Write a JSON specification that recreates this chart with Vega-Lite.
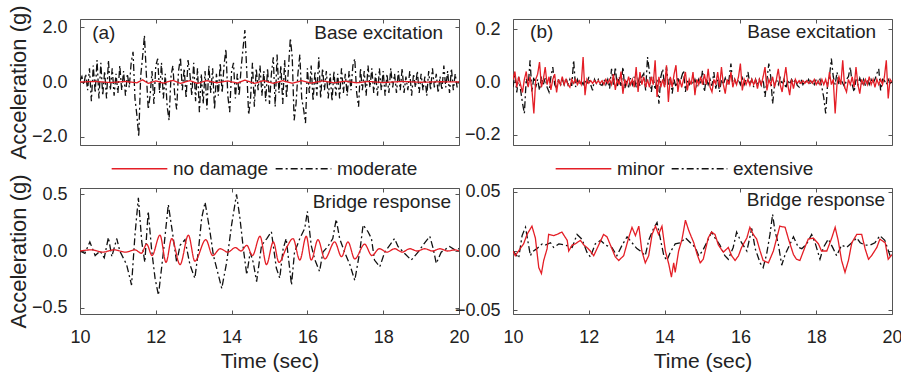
{
"$schema":"https://vega.github.io/schema/vega-lite/v6.json",
"padding":{"left":6,"top":4,"right":2,"bottom":2},
"config":{"font":"Liberation Sans","view":{"stroke":"#555555","strokeWidth":1},
"axis":{"domain":false,"grid":false,"tickSize":-4,"tickColor":"#555555","labelFontSize":18,"labelColor":"#222222","titleFontSize":22,"titleFontWeight":"normal","titleColor":"#222222","labelPadding":17,"labelFlush":false,"labelOverlap":false,"labelBound":false},
"axisBottom":{"labelPadding":18},
"axisTop":{"labelPadding":0},
"axisRight":{"labelPadding":0},
"text":{"font":"Liberation Sans"}},
"datasets":{
"tlk":[{"t":10.00,"v":0.05},{"t":10.05,"v":0.2},{"t":10.10,"v":-0.1},{"t":10.15,"v":0.3},{"t":10.20,"v":-0.3},{"t":10.25,"v":0.5},{"t":10.30,"v":-0.7},{"t":10.35,"v":0.6},{"t":10.40,"v":-0.4},{"t":10.45,"v":0.8},{"t":10.50,"v":-0.6},{"t":10.55,"v":0.7},{"t":10.60,"v":-0.5},{"t":10.65,"v":0.4},{"t":10.70,"v":-0.6},{"t":10.75,"v":0.8},{"t":10.80,"v":-0.3},{"t":10.85,"v":0.5},{"t":10.90,"v":-0.5},{"t":10.95,"v":0.3},{"t":11.00,"v":-0.4},{"t":11.05,"v":0.6},{"t":11.10,"v":-0.3},{"t":11.15,"v":0.4},{"t":11.20,"v":-0.5},{"t":11.25,"v":0.3},{"t":11.30,"v":-0.2},{"t":11.35,"v":0.7},{"t":11.40,"v":1.1},{"t":11.45,"v":-0.6},{"t":11.50,"v":-1.2},{"t":11.55,"v":-2.0},{"t":11.60,"v":0.2},{"t":11.65,"v":0.9},{"t":11.70,"v":1.7},{"t":11.75,"v":0.3},{"t":11.80,"v":-1.0},{"t":11.85,"v":-0.5},{"t":11.90,"v":0.4},{"t":11.95,"v":-0.8},{"t":12.00,"v":0.6},{"t":12.05,"v":0.85},{"t":12.10,"v":-0.4},{"t":12.15,"v":0.7},{"t":12.20,"v":-0.6},{"t":12.25,"v":0.3},{"t":12.30,"v":-0.9},{"t":12.35,"v":-1.4},{"t":12.40,"v":0.2},{"t":12.45,"v":0.6},{"t":12.50,"v":-0.5},{"t":12.55,"v":-1.0},{"t":12.60,"v":0.4},{"t":12.65,"v":0.9},{"t":12.70,"v":-0.3},{"t":12.75,"v":0.5},{"t":12.80,"v":-0.6},{"t":12.85,"v":0.8},{"t":12.90,"v":0.3},{"t":12.95,"v":-0.5},{"t":13.00,"v":0.7},{"t":13.05,"v":-0.7},{"t":13.10,"v":0.5},{"t":13.15,"v":-1.1},{"t":13.20,"v":0.3},{"t":13.25,"v":-0.8},{"t":13.30,"v":0.4},{"t":13.35,"v":-1.0},{"t":13.40,"v":0.6},{"t":13.45,"v":-0.4},{"t":13.50,"v":0.5},{"t":13.55,"v":-1.0},{"t":13.60,"v":0.3},{"t":13.65,"v":-0.5},{"t":13.70,"v":0.7},{"t":13.75,"v":-0.4},{"t":13.80,"v":0.6},{"t":13.85,"v":1.2},{"t":13.90,"v":-0.5},{"t":13.95,"v":-1.1},{"t":14.00,"v":0.4},{"t":14.05,"v":0.7},{"t":14.10,"v":-0.6},{"t":14.15,"v":0.3},{"t":14.20,"v":-0.5},{"t":14.25,"v":0.5},{"t":14.30,"v":1.2},{"t":14.35,"v":1.9},{"t":14.40,"v":0.4},{"t":14.45,"v":-1.2},{"t":14.50,"v":-0.6},{"t":14.55,"v":0.7},{"t":14.60,"v":-0.9},{"t":14.65,"v":0.5},{"t":14.70,"v":-0.3},{"t":14.75,"v":0.6},{"t":14.80,"v":-0.5},{"t":14.85,"v":0.4},{"t":14.90,"v":-0.7},{"t":14.95,"v":0.5},{"t":15.00,"v":-0.8},{"t":15.05,"v":0.3},{"t":15.10,"v":0.9},{"t":15.15,"v":-0.9},{"t":15.20,"v":1.0},{"t":15.25,"v":-0.4},{"t":15.30,"v":0.6},{"t":15.35,"v":-0.8},{"t":15.40,"v":0.8},{"t":15.45,"v":-0.6},{"t":15.50,"v":0.5},{"t":15.55,"v":1.6},{"t":15.60,"v":0.9},{"t":15.65,"v":-1.4},{"t":15.70,"v":-0.8},{"t":15.75,"v":0.3},{"t":15.80,"v":1.0},{"t":15.85,"v":-0.6},{"t":15.90,"v":-1.0},{"t":15.95,"v":-1.5},{"t":16.00,"v":0.5},{"t":16.05,"v":-0.4},{"t":16.10,"v":0.6},{"t":16.15,"v":-0.7},{"t":16.20,"v":0.4},{"t":16.25,"v":-0.5},{"t":16.30,"v":0.9},{"t":16.35,"v":-0.6},{"t":16.40,"v":0.5},{"t":16.45,"v":-0.3},{"t":16.50,"v":0.4},{"t":16.55,"v":-0.6},{"t":16.60,"v":0.3},{"t":16.65,"v":-0.7},{"t":16.70,"v":0.4},{"t":16.75,"v":-0.5},{"t":16.80,"v":0.3},{"t":16.85,"v":-0.6},{"t":16.90,"v":0.5},{"t":16.95,"v":-0.4},{"t":17.00,"v":0.3},{"t":17.05,"v":-0.5},{"t":17.10,"v":0.4},{"t":17.15,"v":-0.3},{"t":17.20,"v":0.6},{"t":17.25,"v":0.85},{"t":17.30,"v":-0.4},{"t":17.35,"v":-0.9},{"t":17.40,"v":0.5},{"t":17.45,"v":-0.3},{"t":17.50,"v":0.4},{"t":17.55,"v":-0.5},{"t":17.60,"v":0.6},{"t":17.65,"v":-0.2},{"t":17.70,"v":0.5},{"t":17.75,"v":-0.4},{"t":17.80,"v":0.3},{"t":17.85,"v":-0.5},{"t":17.90,"v":0.5},{"t":17.95,"v":-0.3},{"t":18.00,"v":0.4},{"t":18.05,"v":-0.5},{"t":18.10,"v":0.3},{"t":18.15,"v":-0.4},{"t":18.20,"v":0.5},{"t":18.25,"v":-0.2},{"t":18.30,"v":0.3},{"t":18.35,"v":-0.4},{"t":18.40,"v":0.4},{"t":18.45,"v":-0.3},{"t":18.50,"v":0.5},{"t":18.55,"v":-0.4},{"t":18.60,"v":0.2},{"t":18.65,"v":-0.3},{"t":18.70,"v":0.4},{"t":18.75,"v":-0.5},{"t":18.80,"v":0.3},{"t":18.85,"v":-0.2},{"t":18.90,"v":0.4},{"t":18.95,"v":-0.4},{"t":19.00,"v":0.3},{"t":19.05,"v":-0.3},{"t":19.10,"v":0.2},{"t":19.15,"v":-0.5},{"t":19.20,"v":0.4},{"t":19.25,"v":-0.3},{"t":19.30,"v":0.5},{"t":19.35,"v":-0.2},{"t":19.40,"v":0.3},{"t":19.45,"v":-0.4},{"t":19.50,"v":0.2},{"t":19.55,"v":-0.3},{"t":19.60,"v":0.6},{"t":19.65,"v":-0.2},{"t":19.70,"v":0.4},{"t":19.75,"v":-0.4},{"t":19.80,"v":0.5},{"t":19.85,"v":-0.3},{"t":19.90,"v":0.3},{"t":19.95,"v":-0.2},{"t":20.00,"v":0.1}],
"tlr":[{"t":10.0,"v":0.0},{"t":10.4,"v":0.02},{"t":10.8,"v":-0.02},{"t":11.2,"v":0.02},{"t":11.5,"v":-0.03},{"t":11.65,"v":0.08},{"t":11.8,"v":-0.05},{"t":12.0,"v":0.04},{"t":12.2,"v":-0.04},{"t":12.45,"v":0.06},{"t":12.65,"v":-0.05},{"t":12.9,"v":0.05},{"t":13.1,"v":-0.05},{"t":13.35,"v":0.05},{"t":13.6,"v":-0.03},{"t":13.9,"v":0.04},{"t":14.15,"v":-0.04},{"t":14.35,"v":0.07},{"t":14.6,"v":-0.05},{"t":14.85,"v":0.05},{"t":15.1,"v":-0.05},{"t":15.35,"v":0.05},{"t":15.6,"v":-0.05},{"t":15.85,"v":0.05},{"t":16.1,"v":-0.04},{"t":16.4,"v":0.04},{"t":16.7,"v":-0.03},{"t":17.0,"v":0.03},{"t":17.3,"v":-0.03},{"t":17.6,"v":0.02},{"t":18.0,"v":-0.02},{"t":18.5,"v":0.02},{"t":19.0,"v":-0.01},{"t":19.5,"v":0.01},{"t":20.0,"v":0.0}],
"trr":[{"t":10.00,"v":0.01},{"t":10.05,"v":0.04},{"t":10.10,"v":-0.02},{"t":10.15,"v":0.02},{"t":10.20,"v":-0.01},{"t":10.25,"v":-0.04},{"t":10.30,"v":0.01},{"t":10.35,"v":0.04},{"t":10.40,"v":-0.02},{"t":10.45,"v":0.02},{"t":10.50,"v":-0.03},{"t":10.55,"v":-0.12},{"t":10.60,"v":0.01},{"t":10.65,"v":0.03},{"t":10.70,"v":0.076},{"t":10.75,"v":-0.02},{"t":10.80,"v":0.01},{"t":10.85,"v":0.057},{"t":10.90,"v":-0.01},{"t":10.95,"v":0.02},{"t":11.00,"v":-0.03},{"t":11.05,"v":0.01},{"t":11.10,"v":0.03},{"t":11.15,"v":-0.04},{"t":11.20,"v":0.01},{"t":11.25,"v":-0.01},{"t":11.30,"v":0.02},{"t":11.35,"v":-0.01},{"t":11.40,"v":0.01},{"t":11.45,"v":-0.01},{"t":11.50,"v":-0.02},{"t":11.55,"v":0.01},{"t":11.60,"v":-0.005},{"t":11.65,"v":0.01},{"t":11.70,"v":-0.01},{"t":11.75,"v":0.005},{"t":11.80,"v":-0.01},{"t":11.85,"v":0.095},{"t":11.90,"v":-0.05},{"t":11.95,"v":0.01},{"t":12.00,"v":-0.005},{"t":12.05,"v":0.005},{"t":12.10,"v":-0.005},{"t":12.15,"v":0.005},{"t":12.20,"v":-0.005},{"t":12.25,"v":0.005},{"t":12.30,"v":-0.005},{"t":12.35,"v":0.005},{"t":12.40,"v":-0.01},{"t":12.45,"v":0.01},{"t":12.50,"v":-0.005},{"t":12.55,"v":0.01},{"t":12.60,"v":-0.01},{"t":12.65,"v":0.03},{"t":12.70,"v":-0.03},{"t":12.75,"v":0.01},{"t":12.80,"v":-0.01},{"t":12.85,"v":0.04},{"t":12.90,"v":-0.045},{"t":12.95,"v":0.01},{"t":13.00,"v":-0.01},{"t":13.05,"v":0.02},{"t":13.10,"v":-0.01},{"t":13.15,"v":0.01},{"t":13.20,"v":-0.02},{"t":13.25,"v":0.057},{"t":13.30,"v":-0.038},{"t":13.35,"v":0.038},{"t":13.40,"v":-0.01},{"t":13.45,"v":0.02},{"t":13.50,"v":-0.02},{"t":13.55,"v":0.01},{"t":13.60,"v":-0.02},{"t":13.65,"v":0.02},{"t":13.70,"v":-0.01},{"t":13.75,"v":0.083},{"t":13.80,"v":-0.057},{"t":13.85,"v":0.02},{"t":13.90,"v":-0.02},{"t":13.95,"v":0.01},{"t":14.00,"v":-0.02},{"t":14.05,"v":0.064},{"t":14.10,"v":-0.076},{"t":14.15,"v":0.02},{"t":14.20,"v":-0.02},{"t":14.25,"v":0.03},{"t":14.30,"v":0.064},{"t":14.35,"v":-0.038},{"t":14.40,"v":0.01},{"t":14.45,"v":-0.02},{"t":14.50,"v":0.01},{"t":14.55,"v":0.038},{"t":14.60,"v":-0.032},{"t":14.65,"v":0.01},{"t":14.70,"v":-0.01},{"t":14.75,"v":0.038},{"t":14.80,"v":-0.05},{"t":14.85,"v":0.01},{"t":14.90,"v":-0.01},{"t":14.95,"v":0.02},{"t":15.00,"v":-0.01},{"t":15.05,"v":0.03},{"t":15.10,"v":-0.01},{"t":15.15,"v":0.05},{"t":15.20,"v":-0.02},{"t":15.25,"v":-0.038},{"t":15.30,"v":0.01},{"t":15.35,"v":-0.01},{"t":15.40,"v":0.038},{"t":15.45,"v":-0.02},{"t":15.50,"v":0.057},{"t":15.55,"v":-0.01},{"t":15.60,"v":-0.044},{"t":15.65,"v":0.01},{"t":15.70,"v":-0.01},{"t":15.75,"v":0.038},{"t":15.80,"v":-0.02},{"t":15.85,"v":0.01},{"t":15.90,"v":-0.01},{"t":15.95,"v":0.02},{"t":16.00,"v":0.07},{"t":16.05,"v":-0.032},{"t":16.10,"v":0.01},{"t":16.15,"v":-0.01},{"t":16.20,"v":0.01},{"t":16.25,"v":-0.013},{"t":16.30,"v":0.01},{"t":16.35,"v":-0.01},{"t":16.40,"v":0.01},{"t":16.45,"v":-0.025},{"t":16.50,"v":0.01},{"t":16.55,"v":-0.01},{"t":16.60,"v":0.02},{"t":16.65,"v":0.057},{"t":16.70,"v":-0.032},{"t":16.75,"v":0.01},{"t":16.80,"v":-0.01},{"t":16.85,"v":0.02},{"t":16.90,"v":-0.02},{"t":16.95,"v":0.01},{"t":17.00,"v":0.05},{"t":17.05,"v":-0.01},{"t":17.10,"v":-0.038},{"t":17.15,"v":0.01},{"t":17.20,"v":0.057},{"t":17.25,"v":-0.01},{"t":17.30,"v":-0.05},{"t":17.35,"v":0.01},{"t":17.40,"v":-0.025},{"t":17.45,"v":0.01},{"t":17.50,"v":-0.005},{"t":17.55,"v":0.005},{"t":17.60,"v":-0.005},{"t":17.65,"v":0.005},{"t":17.70,"v":-0.005},{"t":17.75,"v":0.005},{"t":17.80,"v":-0.005},{"t":17.85,"v":0.005},{"t":17.90,"v":-0.005},{"t":17.95,"v":0.01},{"t":18.00,"v":-0.01},{"t":18.05,"v":0.005},{"t":18.10,"v":-0.01},{"t":18.15,"v":0.01},{"t":18.20,"v":-0.01},{"t":18.25,"v":0.01},{"t":18.30,"v":-0.02},{"t":18.35,"v":0.038},{"t":18.40,"v":-0.01},{"t":18.45,"v":0.01},{"t":18.50,"v":-0.12},{"t":18.55,"v":-0.006},{"t":18.60,"v":0.02},{"t":18.65,"v":-0.01},{"t":18.70,"v":0.083},{"t":18.75,"v":-0.02},{"t":18.80,"v":-0.038},{"t":18.85,"v":0.01},{"t":18.90,"v":-0.01},{"t":18.95,"v":0.02},{"t":19.00,"v":-0.02},{"t":19.05,"v":0.057},{"t":19.10,"v":-0.01},{"t":19.15,"v":-0.044},{"t":19.20,"v":0.01},{"t":19.25,"v":-0.01},{"t":19.30,"v":0.01},{"t":19.35,"v":-0.01},{"t":19.40,"v":0.02},{"t":19.45,"v":-0.01},{"t":19.50,"v":0.01},{"t":19.55,"v":-0.02},{"t":19.60,"v":0.01},{"t":19.65,"v":-0.01},{"t":19.70,"v":0.01},{"t":19.75,"v":-0.01},{"t":19.80,"v":0.02},{"t":19.85,"v":0.083},{"t":19.90,"v":-0.063},{"t":19.95,"v":0.01},{"t":20.00,"v":0.0}],
"trk":[{"t":10.00,"v":-0.02},{"t":10.05,"v":0.03},{"t":10.10,"v":-0.04},{"t":10.15,"v":0.02},{"t":10.20,"v":-0.03},{"t":10.25,"v":-0.08},{"t":10.30,"v":-0.12},{"t":10.35,"v":0.013},{"t":10.40,"v":-0.02},{"t":10.45,"v":0.083},{"t":10.50,"v":-0.038},{"t":10.55,"v":0.02},{"t":10.60,"v":-0.02},{"t":10.65,"v":0.01},{"t":10.70,"v":-0.032},{"t":10.75,"v":0.02},{"t":10.80,"v":-0.01},{"t":10.85,"v":0.015},{"t":10.90,"v":-0.02},{"t":10.95,"v":-0.038},{"t":11.00,"v":0.019},{"t":11.05,"v":0.057},{"t":11.10,"v":-0.01},{"t":11.15,"v":-0.025},{"t":11.20,"v":0.01},{"t":11.25,"v":-0.015},{"t":11.30,"v":0.01},{"t":11.35,"v":-0.01},{"t":11.40,"v":0.015},{"t":11.45,"v":-0.01},{"t":11.50,"v":0.01},{"t":11.55,"v":-0.015},{"t":11.60,"v":0.083},{"t":11.65,"v":-0.019},{"t":11.70,"v":0.01},{"t":11.75,"v":-0.01},{"t":11.80,"v":0.005},{"t":11.85,"v":-0.01},{"t":11.90,"v":0.01},{"t":11.95,"v":-0.01},{"t":12.00,"v":0.019},{"t":12.05,"v":-0.01},{"t":12.10,"v":-0.032},{"t":12.15,"v":0.01},{"t":12.20,"v":-0.005},{"t":12.25,"v":0.01},{"t":12.30,"v":-0.01},{"t":12.35,"v":-0.013},{"t":12.40,"v":0.01},{"t":12.45,"v":-0.01},{"t":12.50,"v":0.01},{"t":12.55,"v":-0.025},{"t":12.60,"v":0.05},{"t":12.65,"v":-0.01},{"t":12.70,"v":0.057},{"t":12.75,"v":-0.02},{"t":12.80,"v":0.02},{"t":12.85,"v":-0.015},{"t":12.90,"v":0.057},{"t":12.95,"v":-0.025},{"t":13.00,"v":0.01},{"t":13.05,"v":-0.02},{"t":13.10,"v":0.015},{"t":13.15,"v":-0.01},{"t":13.20,"v":0.02},{"t":13.25,"v":-0.02},{"t":13.30,"v":0.01},{"t":13.35,"v":-0.015},{"t":13.40,"v":0.02},{"t":13.45,"v":0.032},{"t":13.50,"v":-0.032},{"t":13.55,"v":0.095},{"t":13.60,"v":0.038},{"t":13.65,"v":-0.038},{"t":13.70,"v":0.02},{"t":13.75,"v":-0.03},{"t":13.80,"v":0.01},{"t":13.85,"v":-0.083},{"t":13.90,"v":0.02},{"t":13.95,"v":0.05},{"t":14.00,"v":-0.02},{"t":14.05,"v":0.057},{"t":14.10,"v":-0.01},{"t":14.15,"v":0.02},{"t":14.20,"v":-0.044},{"t":14.25,"v":0.01},{"t":14.30,"v":-0.02},{"t":14.35,"v":0.015},{"t":14.40,"v":-0.01},{"t":14.45,"v":0.02},{"t":14.50,"v":0.044},{"t":14.55,"v":-0.038},{"t":14.60,"v":0.01},{"t":14.65,"v":-0.01},{"t":14.70,"v":0.006},{"t":14.75,"v":-0.01},{"t":14.80,"v":0.01},{"t":14.85,"v":-0.015},{"t":14.90,"v":0.01},{"t":14.95,"v":-0.01},{"t":15.00,"v":0.044},{"t":15.05,"v":-0.038},{"t":15.10,"v":0.015},{"t":15.15,"v":-0.01},{"t":15.20,"v":0.01},{"t":15.25,"v":-0.015},{"t":15.30,"v":0.038},{"t":15.35,"v":-0.025},{"t":15.40,"v":0.01},{"t":15.45,"v":-0.038},{"t":15.50,"v":0.01},{"t":15.55,"v":-0.01},{"t":15.60,"v":0.015},{"t":15.65,"v":-0.01},{"t":15.70,"v":0.01},{"t":15.75,"v":0.07},{"t":15.80,"v":-0.013},{"t":15.85,"v":0.01},{"t":15.90,"v":-0.01},{"t":15.95,"v":0.01},{"t":16.00,"v":-0.01},{"t":16.05,"v":0.015},{"t":16.10,"v":-0.01},{"t":16.15,"v":0.01},{"t":16.20,"v":0.038},{"t":16.25,"v":-0.01},{"t":16.30,"v":0.01},{"t":16.35,"v":-0.019},{"t":16.40,"v":0.01},{"t":16.45,"v":-0.01},{"t":16.50,"v":0.01},{"t":16.55,"v":-0.013},{"t":16.60,"v":0.01},{"t":16.65,"v":-0.057},{"t":16.70,"v":0.01},{"t":16.75,"v":0.07},{"t":16.80,"v":0.02},{"t":16.85,"v":-0.083},{"t":16.90,"v":-0.013},{"t":16.95,"v":0.01},{"t":17.00,"v":-0.01},{"t":17.05,"v":0.015},{"t":17.10,"v":-0.01},{"t":17.15,"v":0.01},{"t":17.20,"v":-0.025},{"t":17.25,"v":0.01},{"t":17.30,"v":-0.01},{"t":17.35,"v":0.01},{"t":17.40,"v":-0.005},{"t":17.45,"v":0.01},{"t":17.50,"v":-0.013},{"t":17.55,"v":-0.019},{"t":17.60,"v":0.01},{"t":17.65,"v":-0.01},{"t":17.70,"v":0.005},{"t":17.75,"v":-0.005},{"t":17.80,"v":0.01},{"t":17.85,"v":-0.01},{"t":17.90,"v":0.005},{"t":17.95,"v":-0.01},{"t":18.00,"v":0.01},{"t":18.05,"v":-0.005},{"t":18.10,"v":0.01},{"t":18.15,"v":-0.02},{"t":18.20,"v":-0.06},{"t":18.25,"v":-0.12},{"t":18.30,"v":-0.01},{"t":18.35,"v":0.02},{"t":18.40,"v":0.089},{"t":18.45,"v":0.02},{"t":18.50,"v":-0.01},{"t":18.55,"v":0.038},{"t":18.60,"v":-0.01},{"t":18.65,"v":0.01},{"t":18.70,"v":-0.005},{"t":18.75,"v":-0.019},{"t":18.80,"v":0.01},{"t":18.85,"v":0.02},{"t":18.90,"v":0.057},{"t":18.95,"v":-0.01},{"t":19.00,"v":-0.038},{"t":19.05,"v":0.01},{"t":19.10,"v":-0.01},{"t":19.15,"v":0.015},{"t":19.20,"v":-0.01},{"t":19.25,"v":0.01},{"t":19.30,"v":-0.015},{"t":19.35,"v":0.01},{"t":19.40,"v":-0.01},{"t":19.45,"v":0.01},{"t":19.50,"v":-0.005},{"t":19.55,"v":0.01},{"t":19.60,"v":0.032},{"t":19.65,"v":0.05},{"t":19.70,"v":-0.032},{"t":19.75,"v":0.01},{"t":19.80,"v":0.006},{"t":19.85,"v":-0.01},{"t":19.90,"v":0.01},{"t":19.95,"v":-0.005},{"t":20.00,"v":0.0}],
"blk":[{"t":10.00,"v":0.0},{"t":10.13,"v":-0.02},{"t":10.26,"v":0.08},{"t":10.40,"v":-0.04},{"t":10.53,"v":0.0},{"t":10.64,"v":-0.06},{"t":10.75,"v":0.12},{"t":10.84,"v":-0.05},{"t":10.97,"v":0.11},{"t":11.05,"v":0.0},{"t":11.23,"v":-0.12},{"t":11.36,"v":-0.3},{"t":11.45,"v":0.14},{"t":11.54,"v":0.47},{"t":11.63,"v":0.08},{"t":11.71,"v":-0.1},{"t":11.80,"v":0.35},{"t":11.89,"v":0.01},{"t":11.98,"v":-0.24},{"t":12.07,"v":-0.39},{"t":12.20,"v":-0.01},{"t":12.33,"v":0.41},{"t":12.45,"v":0.14},{"t":12.55,"v":-0.1},{"t":12.64,"v":0.05},{"t":12.77,"v":0.1},{"t":12.90,"v":-0.12},{"t":13.03,"v":-0.24},{"t":13.12,"v":-0.01},{"t":13.21,"v":0.29},{"t":13.30,"v":0.43},{"t":13.43,"v":0.17},{"t":13.52,"v":-0.04},{"t":13.65,"v":-0.21},{"t":13.74,"v":-0.33},{"t":13.87,"v":-0.1},{"t":14.00,"v":0.23},{"t":14.13,"v":0.5},{"t":14.22,"v":0.29},{"t":14.31,"v":0.02},{"t":14.40,"v":-0.21},{"t":14.49,"v":-0.01},{"t":14.57,"v":-0.1},{"t":14.66,"v":-0.27},{"t":14.79,"v":0.05},{"t":14.93,"v":0.11},{"t":15.05,"v":0.17},{"t":15.18,"v":-0.15},{"t":15.27,"v":-0.24},{"t":15.36,"v":0.02},{"t":15.44,"v":0.11},{"t":15.53,"v":-0.15},{"t":15.58,"v":-0.3},{"t":15.66,"v":-0.01},{"t":15.80,"v":0.11},{"t":15.93,"v":0.2},{"t":16.00,"v":0.35},{"t":16.10,"v":0.05},{"t":16.19,"v":-0.07},{"t":16.32,"v":-0.18},{"t":16.41,"v":-0.01},{"t":16.54,"v":0.04},{"t":16.67,"v":0.11},{"t":16.76,"v":0.28},{"t":16.85,"v":0.11},{"t":16.98,"v":-0.01},{"t":17.12,"v":-0.12},{"t":17.25,"v":-0.26},{"t":17.38,"v":-0.01},{"t":17.47,"v":0.23},{"t":17.60,"v":0.17},{"t":17.69,"v":0.11},{"t":17.77,"v":-0.08},{"t":17.91,"v":-0.14},{"t":18.04,"v":-0.01},{"t":18.17,"v":0.05},{"t":18.30,"v":0.11},{"t":18.39,"v":0.04},{"t":18.56,"v":-0.02},{"t":18.74,"v":-0.08},{"t":18.92,"v":-0.01},{"t":19.09,"v":0.07},{"t":19.23,"v":0.13},{"t":19.32,"v":0.02},{"t":19.40,"v":-0.11},{"t":19.53,"v":-0.01},{"t":19.75,"v":0.04},{"t":19.89,"v":0.01},{"t":20.00,"v":0.02}],
"blr":[{"t":10.0,"v":0.0},{"t":10.3,"v":0.01},{"t":10.6,"v":-0.01},{"t":10.9,"v":0.01},{"t":11.2,"v":-0.01},{"t":11.45,"v":0.01},{"t":11.62,"v":-0.02},{"t":11.76,"v":0.06},{"t":11.9,"v":-0.04},{"t":12.11,"v":0.14},{"t":12.27,"v":-0.10},{"t":12.42,"v":0.11},{"t":12.64,"v":-0.12},{"t":12.86,"v":0.14},{"t":13.03,"v":-0.09},{"t":13.32,"v":0.10},{"t":13.5,"v":-0.04},{"t":13.7,"v":0.02},{"t":13.9,"v":-0.01},{"t":14.1,"v":0.03},{"t":14.25,"v":0.0},{"t":14.4,"v":0.05},{"t":14.55,"v":-0.04},{"t":14.75,"v":0.13},{"t":14.92,"v":-0.12},{"t":15.1,"v":0.08},{"t":15.25,"v":-0.10},{"t":15.45,"v":0.03},{"t":15.62,"v":0.11},{"t":15.8,"v":-0.08},{"t":15.97,"v":0.13},{"t":16.1,"v":-0.08},{"t":16.28,"v":0.10},{"t":16.46,"v":-0.07},{"t":16.72,"v":0.08},{"t":16.9,"v":-0.05},{"t":17.07,"v":0.08},{"t":17.25,"v":-0.07},{"t":17.51,"v":0.06},{"t":17.7,"v":-0.04},{"t":17.9,"v":0.02},{"t":18.1,"v":-0.01},{"t":18.3,"v":0.02},{"t":18.5,"v":-0.01},{"t":18.7,"v":0.02},{"t":18.9,"v":0.0},{"t":19.1,"v":0.02},{"t":19.3,"v":0.0},{"t":19.5,"v":0.02},{"t":19.7,"v":0.0},{"t":19.9,"v":0.01},{"t":20.0,"v":0.0}],
"brr":[{"t":10.00,"v":0.0},{"t":10.06,"v":-0.004},{"t":10.19,"v":0.002},{"t":10.28,"v":0.006},{"t":10.37,"v":0.014},{"t":10.50,"v":0.021},{"t":10.59,"v":0.011},{"t":10.68,"v":-0.014},{"t":10.75,"v":-0.019},{"t":10.81,"v":-0.008},{"t":10.90,"v":0.002},{"t":10.94,"v":0.014},{"t":11.07,"v":0.013},{"t":11.16,"v":0.014},{"t":11.29,"v":0.016},{"t":11.43,"v":0.009},{"t":11.47,"v":0.0},{"t":11.56,"v":0.005},{"t":11.64,"v":0.006},{"t":11.78,"v":0.009},{"t":11.87,"v":0.005},{"t":11.95,"v":0.003},{"t":12.04,"v":0.0},{"t":12.13,"v":-0.004},{"t":12.26,"v":0.005},{"t":12.39,"v":0.014},{"t":12.48,"v":0.012},{"t":12.61,"v":0.002},{"t":12.70,"v":-0.005},{"t":12.79,"v":-0.008},{"t":12.92,"v":-0.004},{"t":13.05,"v":0.011},{"t":13.14,"v":0.020},{"t":13.23,"v":0.013},{"t":13.32,"v":0.021},{"t":13.40,"v":0.0},{"t":13.49,"v":-0.010},{"t":13.58,"v":-0.004},{"t":13.67,"v":0.014},{"t":13.76,"v":0.021},{"t":13.84,"v":0.014},{"t":13.93,"v":0.021},{"t":14.02,"v":0.0},{"t":14.11,"v":-0.011},{"t":14.18,"v":-0.022},{"t":14.24,"v":-0.010},{"t":14.28,"v":-0.018},{"t":14.37,"v":0.0},{"t":14.46,"v":0.010},{"t":14.55,"v":0.026},{"t":14.64,"v":0.017},{"t":14.77,"v":0.007},{"t":14.86,"v":-0.003},{"t":14.94,"v":-0.010},{"t":15.02,"v":-0.007},{"t":15.15,"v":0.011},{"t":15.24,"v":0.016},{"t":15.33,"v":0.014},{"t":15.42,"v":0.005},{"t":15.55,"v":-0.001},{"t":15.68,"v":0.003},{"t":15.77,"v":-0.004},{"t":15.86,"v":-0.008},{"t":15.95,"v":-0.004},{"t":16.03,"v":0.003},{"t":16.17,"v":0.011},{"t":16.25,"v":0.020},{"t":16.34,"v":0.014},{"t":16.43,"v":0.010},{"t":16.52,"v":0.0},{"t":16.60,"v":-0.008},{"t":16.74,"v":-0.010},{"t":16.87,"v":0.0},{"t":16.96,"v":0.011},{"t":17.04,"v":0.021},{"t":17.18,"v":0.020},{"t":17.27,"v":0.010},{"t":17.40,"v":-0.003},{"t":17.48,"v":-0.007},{"t":17.57,"v":-0.008},{"t":17.70,"v":0.003},{"t":17.79,"v":0.010},{"t":17.92,"v":0.011},{"t":18.06,"v":0.006},{"t":18.14,"v":0.0},{"t":18.28,"v":0.0},{"t":18.41,"v":0.011},{"t":18.50,"v":0.020},{"t":18.58,"v":0.009},{"t":18.67,"v":-0.008},{"t":18.76,"v":-0.018},{"t":18.85,"v":-0.008},{"t":18.94,"v":0.007},{"t":19.07,"v":0.014},{"t":19.20,"v":0.014},{"t":19.29,"v":0.002},{"t":19.38,"v":-0.007},{"t":19.46,"v":-0.004},{"t":19.60,"v":0.003},{"t":19.68,"v":0.010},{"t":19.82,"v":0.007},{"t":19.90,"v":-0.007},{"t":20.00,"v":-0.003}],
"brk":[{"t":10.00,"v":0.0},{"t":10.15,"v":-0.006},{"t":10.24,"v":0.013},{"t":10.33,"v":0.020},{"t":10.41,"v":0.005},{"t":10.46,"v":-0.004},{"t":10.50,"v":-0.001},{"t":10.63,"v":0.002},{"t":10.77,"v":0.006},{"t":10.85,"v":0.005},{"t":10.99,"v":0.007},{"t":11.07,"v":0.003},{"t":11.21,"v":0.006},{"t":11.38,"v":0.005},{"t":11.56,"v":0.003},{"t":11.69,"v":0.014},{"t":11.82,"v":0.010},{"t":11.95,"v":-0.001},{"t":12.04,"v":-0.005},{"t":12.17,"v":0.006},{"t":12.31,"v":0.009},{"t":12.44,"v":0.005},{"t":12.61,"v":0.003},{"t":12.74,"v":-0.004},{"t":12.88,"v":0.005},{"t":13.01,"v":0.012},{"t":13.14,"v":0.007},{"t":13.27,"v":0.002},{"t":13.36,"v":0.0},{"t":13.49,"v":-0.004},{"t":13.58,"v":0.009},{"t":13.71,"v":0.019},{"t":13.80,"v":0.024},{"t":13.89,"v":0.010},{"t":13.98,"v":-0.004},{"t":14.06,"v":-0.008},{"t":14.15,"v":-0.001},{"t":14.28,"v":0.006},{"t":14.42,"v":0.007},{"t":14.55,"v":0.011},{"t":14.68,"v":0.007},{"t":14.81,"v":0.003},{"t":14.90,"v":-0.004},{"t":15.00,"v":0.0},{"t":15.11,"v":0.007},{"t":15.24,"v":0.016},{"t":15.33,"v":0.011},{"t":15.46,"v":0.005},{"t":15.59,"v":-0.004},{"t":15.68,"v":-0.007},{"t":15.81,"v":0.003},{"t":15.90,"v":0.016},{"t":16.03,"v":0.007},{"t":16.17,"v":0.0},{"t":16.30,"v":0.019},{"t":16.39,"v":0.002},{"t":16.52,"v":-0.010},{"t":16.60,"v":-0.014},{"t":16.69,"v":-0.003},{"t":16.78,"v":0.014},{"t":16.85,"v":0.031},{"t":16.91,"v":0.017},{"t":17.00,"v":0.006},{"t":17.09,"v":-0.012},{"t":17.18,"v":-0.003},{"t":17.31,"v":0.006},{"t":17.40,"v":0.012},{"t":17.53,"v":0.003},{"t":17.62,"v":0.002},{"t":17.75,"v":0.006},{"t":17.88,"v":0.014},{"t":17.97,"v":0.007},{"t":18.10,"v":-0.007},{"t":18.19,"v":0.003},{"t":18.32,"v":0.010},{"t":18.45,"v":0.002},{"t":18.54,"v":-0.004},{"t":18.67,"v":0.005},{"t":18.80,"v":0.003},{"t":18.94,"v":0.007},{"t":19.07,"v":0.011},{"t":19.16,"v":0.007},{"t":19.29,"v":0.005},{"t":19.42,"v":0.005},{"t":19.55,"v":0.007},{"t":19.68,"v":0.013},{"t":19.81,"v":0.009},{"t":19.95,"v":-0.004},{"t":20.00,"v":-0.002}]
},
"columns":2,
"bounds":"flush",
"spacing":{"row":43,"column":54},
"resolve":{"scale":{"x":"independent","y":"independent","color":"independent","strokeDash":"independent"},"legend":{"color":"independent","strokeDash":"independent"}},
"concat":[
{"width":379,"height":126,"resolve":{"axis":{"x":"independent","y":"independent"}},
"layer":[
{"data":{"name":"tlk"},"mark":{"type":"line","strokeWidth":1.3,"clip":true},
"encoding":{"x":{"field":"t","type":"quantitative","scale":{"domain":[10,20],"nice":false},"axis":{"values":[10,12,14,16,18,20],"labels":false,"title":null}},
"y":{"field":"v","type":"quantitative","scale":{"domain":[-2.3,2.3],"nice":false,"zero":false},"axis":{"values":[-2,0,2],"format":".1f","title":"Acceleration (g)","titlePadding":1}},
"color":{"datum":"moderate","scale":{"domain":["no damage","moderate"],"range":["#e41e26","#111111"]},"legend":{"orient":"none","legendX":31,"legendY":121,"direction":"horizontal","title":null,"symbolSize":3100,"symbolStrokeWidth":1.3,"labelFontSize":19,"labelOffset":5,"columnPadding":4,"padding":0,"labelColor":"#222222"}},
"strokeDash":{"datum":"moderate","scale":{"domain":["no damage","moderate"],"range":[[1,0],[7,3,2,3]]},"legend":{"orient":"none","legendX":31,"legendY":121,"direction":"horizontal","title":null,"symbolSize":3100,"symbolStrokeWidth":1.3,"labelFontSize":19,"labelOffset":5,"columnPadding":4,"padding":0,"labelColor":"#222222"}}}},
{"data":{"name":"tlr"},"mark":{"type":"line","strokeWidth":1.3,"clip":true},
"encoding":{"x":{"field":"t","type":"quantitative","axis":null},"y":{"field":"v","type":"quantitative","axis":null},"color":{"datum":"no damage"},"strokeDash":{"datum":"no damage"}}},
{"data":{"values":[{}]},"mark":{"type":"text","text":"(a)","align":"left","baseline":"middle","fontSize":19,"color":"#222222"},
"encoding":{"x":{"datum":10.32,"type":"quantitative","axis":{"orient":"top","values":[10,12,14,16,18,20],"labels":false,"title":null}},"y":{"datum":1.79,"type":"quantitative","axis":{"orient":"right","values":[-2,0,2],"labels":false,"title":null}}}},
{"data":{"values":[{}]},"mark":{"type":"text","text":"Base excitation","align":"right","baseline":"middle","fontSize":19,"color":"#222222"},
"encoding":{"x":{"datum":19.58,"type":"quantitative","axis":null},"y":{"datum":1.79,"type":"quantitative","axis":null}}}
]},
{"width":379,"height":126,"resolve":{"axis":{"x":"independent","y":"independent"}},
"layer":[
{"data":{"name":"trk"},"mark":{"type":"line","strokeWidth":1.3,"clip":true},
"encoding":{"x":{"field":"t","type":"quantitative","scale":{"domain":[10,20],"nice":false},"axis":{"values":[10,12,14,16,18,20],"labels":false,"title":null}},
"y":{"field":"v","type":"quantitative","scale":{"domain":[-0.24,0.24],"nice":false,"zero":false},"axis":{"values":[-0.2,0,0.2],"format":".1f","title":null}},
"color":{"datum":"extensive","scale":{"domain":["minor","extensive"],"range":["#e41e26","#111111"]},"legend":{"orient":"none","legendX":42,"legendY":121,"direction":"horizontal","title":null,"symbolSize":3100,"symbolStrokeWidth":1.3,"labelFontSize":19,"labelOffset":5,"columnPadding":4,"padding":0,"labelColor":"#222222"}},
"strokeDash":{"datum":"extensive","scale":{"domain":["minor","extensive"],"range":[[1,0],[7,3,2,3]]},"legend":{"orient":"none","legendX":42,"legendY":121,"direction":"horizontal","title":null,"symbolSize":3100,"symbolStrokeWidth":1.3,"labelFontSize":19,"labelOffset":5,"columnPadding":4,"padding":0,"labelColor":"#222222"}}}},
{"data":{"name":"trr"},"mark":{"type":"line","strokeWidth":1.3,"clip":true},
"encoding":{"x":{"field":"t","type":"quantitative","axis":null},"y":{"field":"v","type":"quantitative","axis":null},"color":{"datum":"minor"},"strokeDash":{"datum":"minor"}}},
{"data":{"values":[{}]},"mark":{"type":"text","text":"(b)","align":"left","baseline":"middle","fontSize":19,"color":"#222222"},
"encoding":{"x":{"datum":10.45,"type":"quantitative","axis":{"orient":"top","values":[10,12,14,16,18,20],"labels":false,"title":null}},"y":{"datum":0.19,"type":"quantitative","axis":{"orient":"right","values":[-0.2,0,0.2],"labels":false,"title":null}}}},
{"data":{"values":[{}]},"mark":{"type":"text","text":"Base excitation","align":"right","baseline":"middle","fontSize":19,"color":"#222222"},
"encoding":{"x":{"datum":19.58,"type":"quantitative","axis":null},"y":{"datum":0.19,"type":"quantitative","axis":null}}}
]},
{"width":379,"height":126,"resolve":{"axis":{"x":"independent","y":"independent"}},
"layer":[
{"data":{"name":"blk"},"mark":{"type":"line","strokeWidth":1.3,"clip":true},
"encoding":{"x":{"field":"t","type":"quantitative","scale":{"domain":[10,20],"nice":false},"axis":{"values":[10,12,14,16,18,20],"title":"Time (sec)","titleFontSize":21,"titlePadding":4}},
"y":{"field":"v","type":"quantitative","scale":{"domain":[-0.556,0.556],"nice":false,"zero":false},"axis":{"values":[-0.5,0,0.5],"format":".1f","title":"Acceleration (g)","titlePadding":1}},
"color":{"datum":"moderate","scale":{"domain":["no damage","moderate"],"range":["#e41e26","#111111"]},"legend":null},
"strokeDash":{"datum":"moderate","scale":{"domain":["no damage","moderate"],"range":[[1,0],[7,3,2,3]]},"legend":null}}},
{"data":{"name":"blr"},"mark":{"type":"line","strokeWidth":1.3,"clip":true,"interpolate":"monotone"},
"encoding":{"x":{"field":"t","type":"quantitative","axis":null},"y":{"field":"v","type":"quantitative","axis":null},"color":{"datum":"no damage"},"strokeDash":{"datum":"no damage"}}},
{"data":{"values":[{}]},"mark":{"type":"text","text":"Bridge response","align":"right","baseline":"middle","fontSize":19,"color":"#222222"},
"encoding":{"x":{"datum":19.79,"type":"quantitative","axis":{"orient":"top","values":[10,12,14,16,18,20],"labels":false,"title":null}},"y":{"datum":0.43,"type":"quantitative","axis":{"orient":"right","values":[-0.5,0,0.5],"labels":false,"title":null}}}}
]},
{"width":379,"height":126,"resolve":{"axis":{"x":"independent","y":"independent"}},
"layer":[
{"data":{"name":"brk"},"mark":{"type":"line","strokeWidth":1.3,"clip":true},
"encoding":{"x":{"field":"t","type":"quantitative","scale":{"domain":[10,20],"nice":false},"axis":{"values":[10,12,14,16,18,20],"title":"Time (sec)","titleFontSize":21,"titlePadding":4}},
"y":{"field":"v","type":"quantitative","scale":{"domain":[-0.0532,0.0532],"nice":false,"zero":false},"axis":{"values":[-0.05,0,0.05],"format":".2f","title":null}},
"color":{"datum":"extensive","scale":{"domain":["minor","extensive"],"range":["#e41e26","#111111"]},"legend":null},
"strokeDash":{"datum":"extensive","scale":{"domain":["minor","extensive"],"range":[[1,0],[7,3,2,3]]},"legend":null}}},
{"data":{"name":"brr"},"mark":{"type":"line","strokeWidth":1.3,"clip":true},
"encoding":{"x":{"field":"t","type":"quantitative","axis":null},"y":{"field":"v","type":"quantitative","axis":null},"color":{"datum":"minor"},"strokeDash":{"datum":"minor"}}},
{"data":{"values":[{}]},"mark":{"type":"text","text":"Bridge response","align":"right","baseline":"middle","fontSize":19,"color":"#222222"},
"encoding":{"x":{"datum":19.82,"type":"quantitative","axis":{"orient":"top","values":[10,12,14,16,18,20],"labels":false,"title":null}},"y":{"datum":0.043,"type":"quantitative","axis":{"orient":"right","values":[-0.05,0,0.05],"labels":false,"title":null}}}}
]}
]
}
